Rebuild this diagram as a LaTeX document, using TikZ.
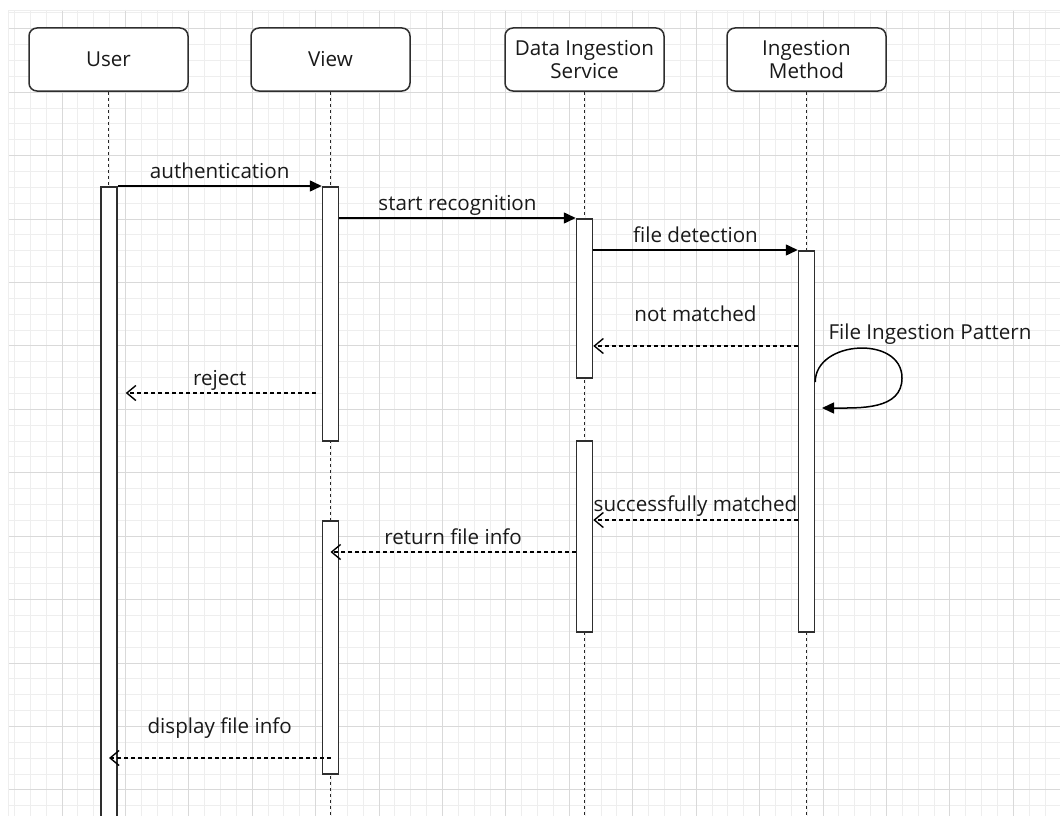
\documentclass[tikz,border=0pt]{standalone}
\usepackage{fontspec}
\setmainfont{Open Sans}
\usetikzlibrary{arrows.meta}
\definecolor{linegray}{HTML}{2E2E2E}
\definecolor{minorgray}{HTML}{EEEEEE}
\definecolor{majorgray}{HTML}{D9D9D9}
\tikzset{%
  actor/.style = {rectangle,rounded corners=8pt,draw=linegray,line width=1.5pt,
        fill=white,minimum width=159pt,minimum height=63pt,align=center},
  bar/.style = {rectangle,draw=linegray,line width=1.5pt,fill=white,
        minimum width=16pt,anchor=north,inner sep=0pt},
  lifeline/.style = {draw=black!85,line width=1.4pt,dash pattern=on 3pt off 3pt},
  callarrow/.style = {-{Triangle[length=12pt,width=11pt]},solid,line width=1.5pt},
  replyarrow/.style = {-{Straight Barb[length=9pt,width=15pt]},
        dash pattern=on 4pt off 3pt,line width=1.4pt},
  msg/.style = {anchor=base,yshift=8pt,inner sep=0pt}
}

\begin{document}
\begin{tikzpicture}[x=1pt,y=-1pt,
  font=\fontsize{20.6}{23}\selectfont,text=black!90]
  \useasboundingbox (0,0) rectangle (1060,816);
  \begin{scope}
    \clip (8,10) rectangle (1060,816);
    \foreach \k in {0,...,67}
      \draw[minorgray,line width=1pt] ({-1.42+15.855*\k},10) -- ++(0,806);
    \foreach \k in {0,...,51}
      \draw[minorgray,line width=1pt] (8,{12.84+15.86*\k}) -- ++(1052,0);
    \foreach \k in {0,4,...,64}
      \draw[majorgray,line width=1pt] ({-1.42+15.855*\k},10) -- ++(0,806);
    \foreach \k in {1,5,...,49}
      \draw[majorgray,line width=1pt] (8,{12.84+15.86*\k}) -- ++(1052,0);
    \draw[minorgray,line width=1pt] (8.5,816) |- (1060,10.5);
  \end{scope}

  \node[actor] (user) at (108.5,59.5) {User};
  \node[actor] (view) at (330.5,59.5) {View};
  \node[actor] (dis) at (584.5,59.5) {Data Ingestion\\Service};
  \node[actor] (im) at (806.5,59.5) {Ingestion\\Method};

  \coordinate (userend) at (108.5,816);
  \coordinate (viewend) at (330.5,816);
  \coordinate (disend) at (584.5,816);
  \coordinate (imend) at (806.5,816);
  \draw[lifeline] (user) -- (userend);
  \draw[lifeline] (view) -- (viewend);
  \draw[lifeline] (dis) -- (disend);
  \draw[lifeline] (im) -- (imend);

  \node[bar,minimum height=634pt] (userbar) at (109,186) {};
  \node[bar,minimum height=254pt] (viewbar1) at (330.5,186) {};
  \node[bar,minimum height=253pt] (viewbar2) at (330.5,520) {};
  \node[bar,minimum height=159pt] (disbar1) at (584.5,218) {};
  \node[bar,minimum height=191pt] (disbar2) at (584.5,440) {};
  \node[bar,minimum height=381pt] (imbar) at (806.5,250) {};

  \coordinate (m4) at (0,346);
  \coordinate (m5) at (0,393);
  \coordinate (loopy) at (0,382);
  \coordinate (loopmid) at (902,378);
  \coordinate (loopend) at (822,408);
  \coordinate (m6) at (0,520);
  \coordinate (m7) at (0,552);
  \coordinate (m8) at (0,758);

  \draw[callarrow] (userbar.north east) --
    node[msg] (authlabel) {authentication} (viewbar1.north west);
  \draw[callarrow] (viewbar1.east |- disbar1.north) --
    node[msg] (startlabel) {start recognition} (disbar1.north west);
  \draw[callarrow] (disbar1.east |- imbar.north) --
    node[msg] (filelabel) {file detection} (imbar.north west);
  \draw[replyarrow] (imbar.west |- m4) --
    node[msg,yshift=17pt] (notlabel) {not matched} (disbar1.east |- m4);
  \draw[replyarrow,shorten <=6pt,shorten >=8pt] (viewbar1.west |- m5) --
    node[msg] (rejectlabel) {reject} (userbar.east |- m5);
  \draw[callarrow] (imbar.east |- loopy) .. controls +(0,-42) and +(0,-43) ..
    (loopmid) .. controls +(0,32) and +(38,0) .. (loopend);
  \node[anchor=base,inner sep=0pt] (looplabel) at (930,339.5) {File Ingestion Pattern};
  \draw[replyarrow] (imbar.west |- m6) --
    node[msg,yshift=1pt] (matchlabel) {successfully matched} (disbar2.east |- m6);
  \draw[replyarrow] (disbar2.west |- m7) --
    node[msg] (returnlabel) {return file info} (viewbar2.center |- m7);
  \draw[replyarrow] (viewbar2.center |- m8) --
    node[msg,yshift=17pt] (displaylabel) {display file info} (userbar.center |- m8);
\end{tikzpicture}
\end{document}
